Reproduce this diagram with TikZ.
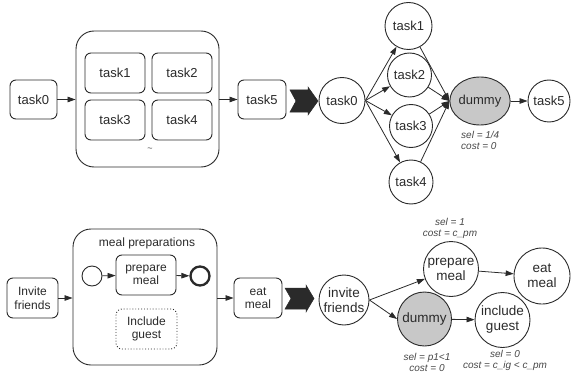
\documentclass[tikz,border=0pt]{standalone}
\usepackage{fontspec}
\setmainfont{Liberation Sans}
\usetikzlibrary{arrows.meta,shapes.geometric}
\definecolor{ink}{HTML}{2A2A2A}
\definecolor{dgray}{HTML}{C8C8C8}
\begin{document}
\begin{tikzpicture}[x=1pt,y=-1pt,
  box/.style={draw=ink, line width=0.9pt, rounded corners=6pt, align=center, inner sep=0pt, text=ink},
  bigbox/.style={draw=ink, line width=0.9pt, rounded corners=18pt, inner sep=0pt},
  circ/.style={draw=ink, circle, line width=0.9pt, align=center, inner sep=0pt, text=ink},
  ftop/.style={font=\fontsize{13}{15}\selectfont},
  fbox/.style={font=\fontsize{12}{13.5}\selectfont},
  fcirc/.style={font=\fontsize{13.5}{15}\selectfont},
  arr/.style={-{Triangle[length=8pt,width=5.5pt]}, line width=0.8pt, draw=ink},
  note/.style={font=\itshape\fontsize{10}{11}\selectfont, text=black!72, inner sep=0pt},
  chev/.style={fill=ink, draw=ink, line width=0.5pt}
]
\path[use as bounding box] (0,0) rectangle (572,377);

% ---------------- top left ----------------
\node[box, ftop, minimum width=47pt, minimum height=39pt] (tA0) at (33.5,99.5) {task0};
\node[bigbox, minimum width=143pt, minimum height=136pt] (contA) at (147.5,99) {};
\node[box, ftop, minimum width=60pt, minimum height=40pt] (tA1) at (115,73) {task1};
\node[box, ftop, minimum width=60pt, minimum height=40pt] (tA2) at (182,73) {task2};
\node[box, ftop, minimum width=60pt, minimum height=40pt] (tA3) at (115,120) {task3};
\node[box, ftop, minimum width=60pt, minimum height=40pt] (tA4) at (182,120) {task4};
\node[text=black!70, font=\fontsize{9}{10}\selectfont, inner sep=0pt] (tilde) at (150,150) {\textasciitilde};
\node[box, ftop, minimum width=48pt, minimum height=39pt] (tA5) at (262,99.5) {task5};
\draw[arr] (tA0.east) -- (tA0.east -| contA.west);
\draw[arr] (tA5.west -| contA.east) -- (tA5.west);

% chevron top
\fill[chev] (290,90) -- (308,90) -- (308,87) -- (318,101) -- (308,115) -- (308,112) -- (290,112) -- (296,101) -- cycle;

% ---------------- top right ----------------
\node[circ, ftop, minimum size=46pt] (c0) at (342,100.5) {task0};
\node[circ, ftop, minimum size=47pt] (c1) at (408.5,26) {task1};
\node[circ, ftop, minimum size=44pt] (c2) at (409.5,75) {task2};
\node[circ, ftop, minimum size=43pt] (c3) at (411,126) {task3};
\node[circ, ftop, minimum size=44pt] (c4) at (411,182) {task4};
\node[draw=ink, ellipse, fill=dgray, line width=0.9pt, inner sep=0pt, minimum width=46pt, minimum height=48pt, ftop, text=ink] (dA) at (480,101) {dummy};
\node[circ, ftop, minimum size=42pt] (c5) at (549,101) {task5};
\foreach \t in {c1,c2,c3,c4} {
  \draw[arr] (c0.east) -- (\t);
  \draw[arr] (\t) -- (dA.west);
}
\draw[arr] (dA) -- (c5);
\node[note, anchor=north west, align=left] (nA) at (461,131) {sel = 1/4\\cost = 0};

% ---------------- bottom left ----------------
\node[box, fbox, minimum width=51pt, minimum height=40pt] (inv) at (32.5,298) {Invite\\friends};
\node[bigbox, minimum width=144pt, minimum height=136pt] (contB) at (145,297) {};
\node[fbox, text=ink, inner sep=0pt] (mpl) at (147,243) {meal preparations};
\node[circle, draw=ink, line width=0.9pt, minimum size=20pt, inner sep=0pt] (st) at (92,276) {};
\node[box, fbox, minimum width=60pt, minimum height=40pt] (pmB) at (146,275) {prepare\\meal};
\node[circle, draw=ink, line width=2.3pt, minimum size=19pt, inner sep=0pt] (en) at (200,276) {};
\node[box, fbox, dotted, minimum width=61pt, minimum height=40pt] (igB) at (146.5,329) {Include\\guest};
\node[box, fbox, minimum width=48pt, minimum height=40pt] (emB) at (258,298) {eat\\meal};
\draw[arr] (inv.east) -- (inv.east -| contB.west);
\draw[arr] (emB.west -| contB.east) -- (emB.west);
\draw[arr] (st) -- (pmB);
\draw[arr] (pmB) -- (en);

% chevron bottom
\fill[chev] (285,288) -- (306,288) -- (306,285) -- (314,298.5) -- (306,312) -- (306,309) -- (285,309) -- (291,298.5) -- cycle;

% ---------------- bottom right ----------------
\node[circ, fcirc, minimum size=50pt] (ci) at (344,300) {invite\\friends};
\node[circ, fcirc, minimum size=55pt] (cpm) at (451,269) {prepare\\meal};
\node[circ, fcirc, minimum size=56pt] (cem) at (542,276) {eat\\meal};
\node[circ, fcirc, fill=dgray, minimum size=54pt] (dB) at (424.5,319) {dummy};
\node[circ, fcirc, minimum size=55pt] (cig) at (502.5,320) {include\\guest};
\draw[arr] (ci.east) -- (cpm);
\draw[arr] (ci.east) -- (dB.west);
\draw[arr] (cpm) -- (cem);
\draw[arr] (dB) -- (cig);
\node[note, align=center] (n1) at (450,228.5) {sel = 1\\cost = c\_pm};
\node[note, align=center] (n2) at (427,362.5) {sel = p1<1\\cost = 0};
\node[note, align=center] (n3) at (505,360.5) {sel = 0\\cost = c\_ig < c\_pm};
\end{tikzpicture}
\end{document}
